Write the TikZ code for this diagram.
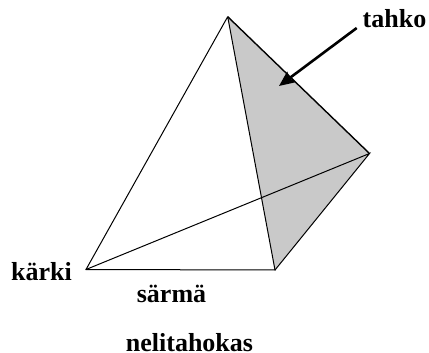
\documentclass[tikz,border=0pt]{standalone}
\usepackage{fontspec}
\setmainfont{Liberation Serif}
\usetikzlibrary{arrows.meta}
\begin{document}
\begin{tikzpicture}[x=1pt,y=-1pt,
  lbl/.style={font=\bfseries\fontsize{26}{28}\selectfont,inner sep=0pt,anchor=base},
  edge/.style={draw=black,line width=1pt}]
\useasboundingbox (0,0) rectangle (429,353);
\coordinate (A) at (227.7,16.7);
\coordinate (B) at (369.5,153.5);
\coordinate (C) at (275,270);
\coordinate (D) at (86,269.5);
\fill[black!21] (A) -- (B) -- (C) -- cycle;
\draw[edge] (A) -- (D) -- (C) -- (A);
\draw[edge] (D) -- (B) -- (C);
\draw[edge,line width=1.4pt] (A) -- (B);
\coordinate (T) at (356.7,28);
\coordinate (H) at (279,86);
\draw[line width=2.6pt,-{Stealth[length=15pt,width=13pt,inset=1.5pt]}] (T) -- (H);
\node[lbl] (tahko) at (394.5,28) {tahko};
\node[lbl] (karki) at (41.5,280) {kärki};
\node[lbl] (sarma) at (171.5,302.5) {särmä};
\node[lbl] (neli) at (189.5,351) {nelitahokas};
\end{tikzpicture}
\end{document}
